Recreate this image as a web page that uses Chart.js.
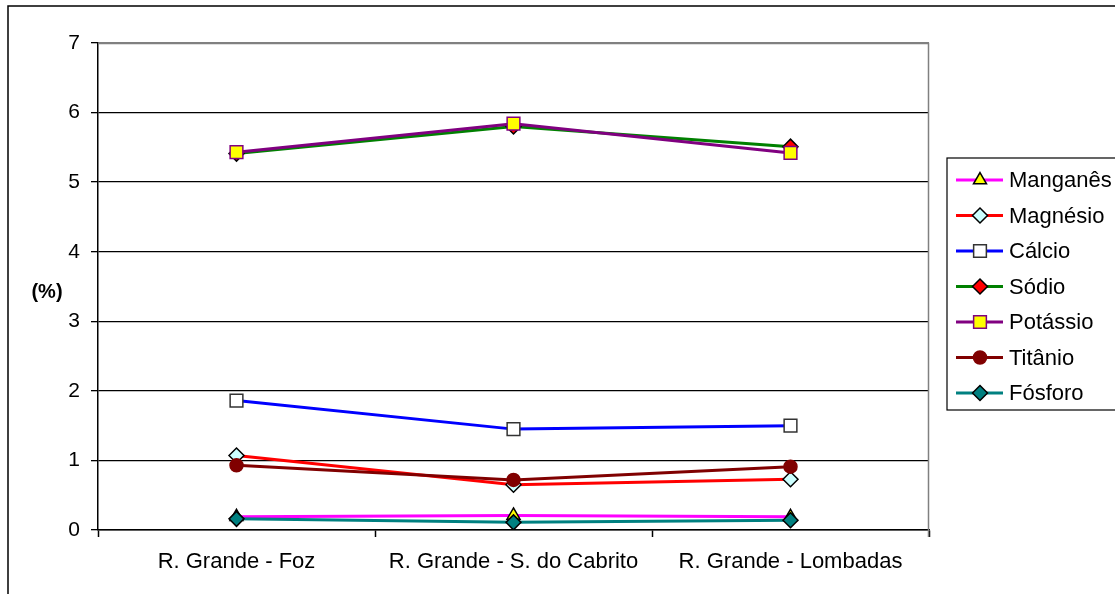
<!DOCTYPE html>
<html lang="pt">
<head>
    <meta charset="UTF-8">
    <title>Elementos (%)</title>
    <script src="https://cdn.jsdelivr.net/npm/chart.js"></script>
    <style>
        body {
            margin: 0;
            background-color: white;
            overflow: hidden;
        }
        canvas {
            display: block;
        }
    </style>
</head>
<body>
    <canvas id="chemChart" width="1115" height="594"></canvas>

    <script>
        // data
        var locais = ['R. Grande - Foz', 'R. Grande - S. do Cabrito', 'R. Grande - Lombadas'];
        var yTicks = [0, 1, 2, 3, 4, 5, 6, 7];

        var manganes = [0.19, 0.21, 0.19];
        var magnesio = [1.07, 0.65, 0.73];
        var calcio   = [1.86, 1.45, 1.50];
        var sodio    = [5.41, 5.80, 5.51];
        var potassio = [5.43, 5.84, 5.42];
        var titanio  = [0.93, 0.72, 0.91];
        var fosforo  = [0.16, 0.11, 0.14];

        var FONT = '"Liberation Sans", Arial, sans-serif';

        function serie(label, data, line, fill, edge, style, radius, idx) {
            return {
                label: label,
                data: data,
                borderColor: line,
                borderWidth: 3,
                pointStyle: style,
                pointRadius: radius,
                pointHoverRadius: radius,
                pointBackgroundColor: fill,
                pointBorderColor: edge,
                pointBorderWidth: 1.5,
                fill: false,
                tension: 0,
                order: 10 - idx   // later series drawn on top, like Excel
            };
        }

        var datasets = [
            serie('Manganês', manganes, '#FF00FF', '#FFFF00', '#000000', 'triangle', 7.5, 0),
            serie('Magnésio', magnesio, '#FF0000', '#CCFFFF', '#000000', 'rectRot', 7.5, 1),
            serie('Cálcio',   calcio,   '#0000FF', '#FFFFFF', '#333333', 'rect', 9, 2),
            serie('Sódio',    sodio,    '#008000', '#FF0000', '#000000', 'rectRot', 7.5, 3),
            serie('Potássio', potassio, '#800080', '#FFFF00', '#800080', 'rect', 9, 4),
            serie('Titânio',  titanio,  '#800000', '#800000', '#800000', 'circle', 6.5, 5),
            serie('Fósforo',  fosforo,  '#008080', '#008080', '#000000', 'rectRot', 7.5, 6)
        ];

        // frame, y title, plot border and the boxed legend
        var decor = {
            id: 'decor',
            beforeDatasetsDraw: function(chart) {
                var ctx = chart.ctx, a = chart.chartArea;
                ctx.save();
                ctx.strokeStyle = '#808080';
                ctx.lineWidth = 1.5;
                ctx.beginPath();
                ctx.moveTo(a.left, a.top + 0.5);
                ctx.lineTo(a.right - 0.5, a.top + 0.5);
                ctx.lineTo(a.right - 0.5, a.bottom + 7);
                ctx.stroke();
                ctx.restore();
            },
            afterDraw: function(chart) {
                var ctx = chart.ctx;
                ctx.save();

                // outer frame (right and bottom fall off the picture)
                ctx.strokeStyle = '#000';
                ctx.lineWidth = 1.5;
                ctx.strokeRect(8, 6, 1130, 600);

                // y axis title
                ctx.fillStyle = '#000';
                ctx.font = 'bold 20px ' + FONT;
                ctx.textAlign = 'center';
                ctx.textBaseline = 'middle';
                ctx.fillText('(%)', 47, 292);

                // legend box
                ctx.lineWidth = 1.2;
                ctx.strokeRect(947, 158, 200, 252);

                ctx.font = '22px ' + FONT;
                ctx.textAlign = 'left';
                var rows = [180, 215.5, 251, 286.5, 322, 357.5, 393];
                chart.data.datasets.forEach(function(ds, i) {
                    var y = rows[i];
                    ctx.strokeStyle = ds.borderColor;
                    ctx.lineWidth = 3;
                    ctx.beginPath();
                    ctx.moveTo(956, y);
                    ctx.lineTo(1003, y);
                    ctx.stroke();

                    ctx.fillStyle = ds.pointBackgroundColor;
                    ctx.strokeStyle = ds.pointBorderColor;
                    ctx.lineWidth = ds.pointBorderWidth;
                    Chart.helpers.drawPoint(ctx, {
                        pointStyle: ds.pointStyle,
                        radius: ds.pointRadius,
                        rotation: 0,
                        borderWidth: ds.pointBorderWidth
                    }, 980, y);

                    ctx.fillStyle = '#000';
                    ctx.fillText(ds.label, 1009, y + 1);
                });
                ctx.restore();
            }
        };

        var ctx = document.getElementById('chemChart').getContext('2d');
        var chemChart = new Chart(ctx, {
            type: 'line',
            data: {
                labels: locais,
                datasets: datasets
            },
            plugins: [decor],
            options: {
                responsive: false,
                animation: false,
                layout: {
                    padding: { left: 0, top: 43, right: 186, bottom: 0 }
                },
                plugins: {
                    legend: { display: false },
                    tooltip: { enabled: false },
                    title: { display: false }
                },
                scales: {
                    x: {
                        type: 'category',
                        offset: true,
                        afterFit: function(scale) { scale.height = 64; },
                        grid: {
                            offset: true,
                            drawOnChartArea: false,
                            drawTicks: true,
                            tickLength: 7,
                            tickColor: '#000',
                            tickWidth: 1.5
                        },
                        border: { display: true, color: '#000', width: 1.5 },
                        ticks: {
                            color: '#000',
                            font: { family: FONT, size: 22 },
                            padding: 12,
                            maxRotation: 0,
                            autoSkip: false
                        }
                    },
                    y: {
                        min: 0,
                        max: 7,
                        afterFit: function(scale) { scale.width = 98; },
                        afterBuildTicks: function(scale) {
                            scale.ticks = yTicks.map(function(v) { return { value: v }; });
                        },
                        grid: {
                            color: function(c) {
                                return c.tick && c.tick.value === 7 ? '#808080' : '#000';
                            },
                            lineWidth: 1.3,
                            drawTicks: true,
                            tickLength: 7,
                            tickColor: '#000'
                        },
                        border: { display: true, color: '#000', width: 1.5 },
                        ticks: {
                            color: '#000',
                            font: { family: FONT, size: 21 },
                            padding: 11
                        }
                    }
                }
            }
        });
    </script>
</body>
</html>
